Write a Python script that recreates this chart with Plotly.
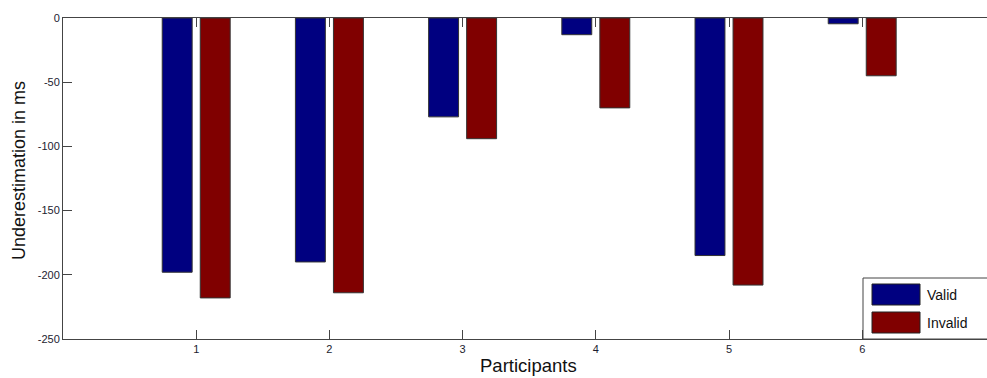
import plotly.graph_objects as go

participants = [1, 2, 3, 4, 5, 6]
valid = [-198, -190, -77, -13, -185, -4.5]
invalid = [-218, -214, -94, -70, -208, -45]
y_ticks = [0, -50, -100, -150, -200, -250]
series_names = ["Valid", "Invalid"]
series_colors = ["#000080", "#800000"]

W, H = 987, 378
ML, MR, MT, MB = 63, 0, 18, 39
PW, PH = W - ML - MR, H - MT - MB

def px_x(p):
    return (p - ML) / PW

def px_y(p):
    return (H - MB - p) / PH

fig = go.Figure()
for name, vals, col in zip(series_names, [valid, invalid], series_colors):
    fig.add_trace(go.Bar(
        x=participants, y=vals, name=name,
        marker=dict(color=col, line=dict(color="#333333", width=1)),
        showlegend=False,
    ))

FAM = "Liberation Sans, Arial, sans-serif"
axis_font = dict(family=FAM, size=11, color="#1c1c30")
fig.update_layout(
    width=W, height=H,
    margin=dict(l=ML, r=MR, t=MT, b=MB, pad=0),
    paper_bgcolor="white", plot_bgcolor="white",
    barmode="group", bargap=0.429, bargroupgap=0.213,
    xaxis=dict(
        range=[0, PW / 133.2], tickvals=participants, ticktext=[str(p) for p in participants],
        ticks="inside", ticklen=9, tickcolor="#444444", tickwidth=1,
        showline=True, linecolor="#444444", linewidth=1, mirror="ticks",
        showgrid=False, zeroline=False, tickfont=axis_font,
    ),
    yaxis=dict(
        range=[-250, 0], tickvals=y_ticks, ticktext=[str(v) for v in y_ticks],
        ticks="inside", ticklen=9, tickcolor="#444444", tickwidth=1,
        showline=True, linecolor="#444444", linewidth=1, mirror=False,
        showgrid=False, zeroline=False, tickfont=axis_font,
    ),
    font=dict(family=FAM),
)

annotations = [
    dict(xref="paper", yref="paper", x=px_x(528), y=px_y(365.5), text="Participants",
         showarrow=False, xanchor="center", yanchor="middle",
         font=dict(family=FAM, size=18.5, color="#111111")),
    dict(xref="paper", yref="paper", x=px_x(19), y=px_y(171), text="Underestimation in ms",
         showarrow=False, xanchor="center", yanchor="middle", textangle=-90,
         font=dict(family=FAM, size=18, color="#111111")),
]

# Legend box (MATLAB style, large swatches)
shapes = [dict(type="rect", xref="paper", yref="paper",
               x0=px_x(863), x1=px_x(1000), y0=px_y(339), y1=px_y(278),
               line=dict(color="#444444", width=1), fillcolor="white", layer="above")]
for i, (name, col) in enumerate(zip(series_names, series_colors)):
    top = 284 + i * 28
    shapes.append(dict(type="rect", xref="paper", yref="paper",
                       x0=px_x(872), x1=px_x(920), y0=px_y(top + 21), y1=px_y(top),
                       line=dict(color="#222222", width=1), fillcolor=col, layer="above"))
    annotations.append(dict(xref="paper", yref="paper", x=px_x(925), y=px_y(top + 10.5),
                            text=name, showarrow=False, xanchor="left", yanchor="middle",
                            font=dict(family=FAM, size=14, color="#111111")))
fig.update_layout(shapes=shapes, annotations=annotations)

fig.write_html("out.html", config={"displayModeBar": False},
               post_script="document.body.style.margin='0';document.body.style.overflow='hidden';")
